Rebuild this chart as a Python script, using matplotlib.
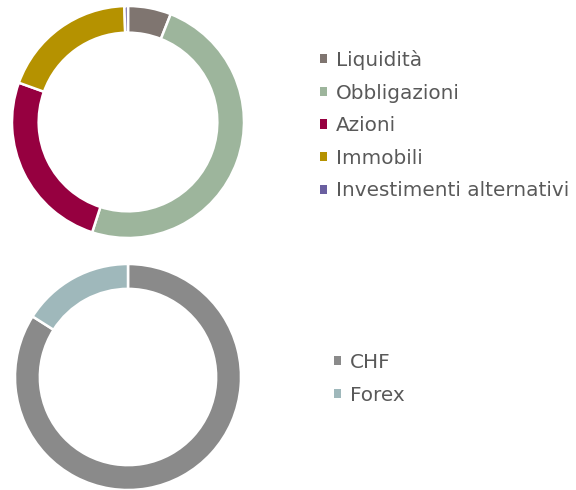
import matplotlib
matplotlib.use("Agg")
import matplotlib.pyplot as plt

# asset allocation (top donut)
asset_labels = ["Liquidità", "Obbligazioni", "Azioni", "Immobili", "Investimenti alternativi"]
asset_values = [6.0, 49.0, 25.5, 19.0, 0.5]
asset_colors = ["#7f7570", "#9db59c", "#960040", "#b59200", "#6a5fa0"]

# currency split (bottom donut)
fx_labels = ["CHF", "Forex"]
fx_values = [84.0, 16.0]
fx_colors = ["#8a8a8a", "#9fb8bb"]

W, H = 576, 490
fig = plt.figure(figsize=(W / 100, H / 100), dpi=100)


def donut(cx, cy, r, values, colors, ring):
    ax = fig.add_axes([(cx - r) / W, (H - cy - r) / H, 2 * r / W, 2 * r / H])
    wedges, _ = ax.pie(values, colors=colors, startangle=90, counterclock=False,
                       radius=1, wedgeprops=dict(width=ring, edgecolor="white", linewidth=1.8))
    ax.set_xlim(-1, 1)
    ax.set_ylim(-1, 1)
    ax.set_aspect("equal")
    ax.axis("off")
    return ax, wedges


ax1, w1 = donut(128, 122, 116, asset_values, asset_colors, 0.23)
ax2, w2 = donut(128, 377, 113, fx_values, fx_colors, 0.22)


def legend(wedges, labels, x, y):
    leg = fig.legend(wedges, labels, loc="upper left", bbox_to_anchor=(x / W, 1 - y / H),
                     frameon=False, fontsize=14.4, labelcolor="#595959",
                     handlelength=0.33, handleheight=0.33, handletextpad=0.45,
                     labelspacing=0.68, borderaxespad=0, borderpad=0)
    for h in leg.legend_handles:
        h.set_edgecolor("none")
    return leg


legend(w1, asset_labels, 320, 50)
legend(w2, fx_labels, 334, 353)

fig.savefig("out.png", dpi=100)
